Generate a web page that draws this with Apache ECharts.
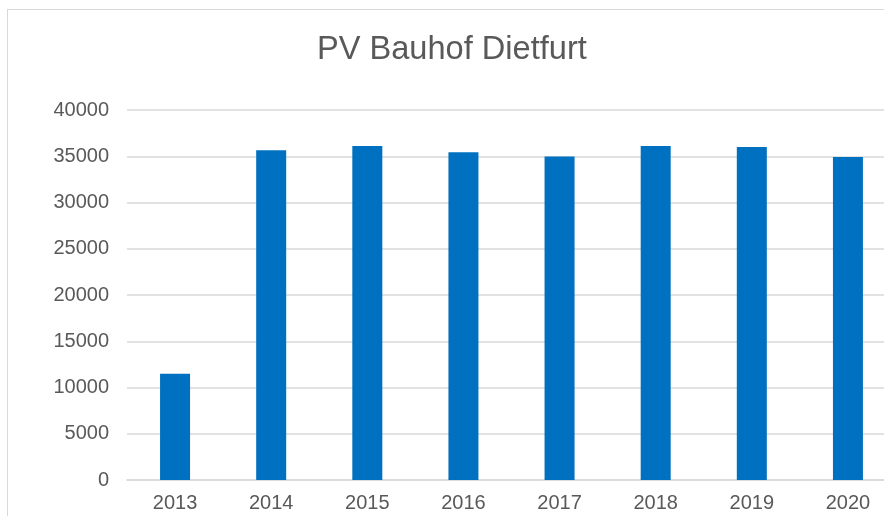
<html>
  <head>
    <meta charset="utf-8">
    <script src="https://cdn.jsdelivr.net/npm/echarts@6/dist/echarts.min.js"></script>
    <style>
      body { margin: 0; overflow: hidden; background: #fff; }
      #frame { position: absolute; left: 7px; top: 9px; width: 940px; height: 560px; border: 1px solid #d9d9d9; }
      #main { width: 940px; height: 560px; }
    </style>
  </head>
  <body>
    <div id="frame"><div id="main"></div></div>
    <script>
      // Jahresertrag (kWh)
      var years = ['2013', '2014', '2015', '2016', '2017', '2018', '2019', '2020'];
      var yield_kwh = [11500, 35650, 36100, 35430, 34960, 36100, 36000, 34920];
      var yTicks = [0, 5000, 10000, 15000, 20000, 25000, 30000, 35000, 40000];

      var font = '"Liberation Sans", Arial, sans-serif';
      var myChart = echarts.init(document.getElementById('main'));
      var option = {
        animation: false,
        title: {
          text: 'PV Bauhof Dietfurt',
          left: 309,
          top: 24,
          padding: 0,
          textStyle: { fontFamily: font, fontSize: 32.6, fontWeight: 'normal', color: '#595959' }
        },
        grid: { left: 119, top: 100, width: 769, height: 370 },
        xAxis: {
          type: 'category',
          data: years,
          axisTick: { show: false },
          axisLine: { lineStyle: { color: '#d9d9d9', width: 1.5 } },
          axisLabel: { fontFamily: font, fontSize: 20, color: '#595959', margin: 13 }
        },
        yAxis: {
          type: 'value',
          min: yTicks[0],
          max: yTicks[yTicks.length - 1],
          interval: 5000,
          axisLine: { show: false },
          axisTick: { show: false },
          splitLine: { lineStyle: { color: '#d9d9d9', width: 1.5 } },
          axisLabel: {
            fontFamily: font, fontSize: 20, color: '#595959', margin: 18,
            formatter: function (v) { return String(v); }
          }
        },
        series: [{
          type: 'bar',
          data: yield_kwh,
          barWidth: 30,
          itemStyle: { color: '#0070c0' }
        }]
      };
      myChart.setOption(option);
    </script>
  </body>
</html>
